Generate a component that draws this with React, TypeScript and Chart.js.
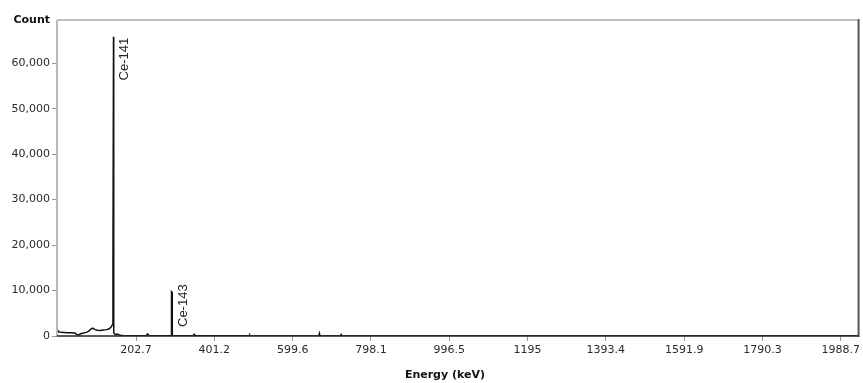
import React, { useEffect, useRef } from "react";
import { Chart, registerables } from "chart.js";

Chart.register(...registerables);

// Spectrum channels (energy in keV) and counts
const spectrumEnergy = [
  3, 5, 8, 12, 20, 30, 40, 48, 52, 58, 64, 70, 76, 82, 88, 93, 98, 104, 112, 120,
  128, 135, 140, 143.5, 144.2, 145.6, 146.2, 150, 156, 162, 172, 190, 228, 232, 236,
  260, 292.3, 292.6, 294.2, 294.6, 320, 348, 350, 352, 420, 490, 491, 492, 600, 666,
  667.5, 669, 721, 722.5, 724, 900, 2034,
];
const spectrumCounts = [
  400, 1200, 900, 800, 750, 700, 700, 650, 350, 300, 550, 650, 800, 1000, 1500, 1750,
  1450, 1250, 1200, 1300, 1400, 1600, 2000, 2600, 15000, 65800, 700, 300, 450, 150, 80,
  60, 60, 450, 60, 40, 40, 9750, 9600, 60, 40, 40, 350, 40, 30, 30, 180, 30, 20, 20, 550,
  20, 20, 300, 20, 15, 10,
];

// Peak annotations
const peakNames = ["Ce-141", "Ce-143"];
const peakEnergy = [145.4, 294.2];
const peakCounts = [65800, 9750];

// Axis ticks
const xTickValues = [202.7, 401.2, 599.6, 798.1, 996.5, 1195, 1393.4, 1591.9, 1790.3, 1988.7];
const yTickValues = [0, 10000, 20000, 30000, 40000, 50000, 60000];
const xMin = 2.4;
const xMax = 2034;
const yMax = 69500;

const xTitle = "Energy (keV)";
const yTitle = "Count";

const framePlugin = {
  id: "framePlugin",
  afterDraw(chart: any) {
    const { ctx, chartArea } = chart;
    const { left, right, top, bottom } = chartArea;
    ctx.save();
    // top border
    ctx.strokeStyle = "#adadad";
    ctx.lineWidth = 1.6;
    ctx.beginPath();
    ctx.moveTo(left, top);
    ctx.lineTo(right, top);
    ctx.stroke();
    // left axis
    ctx.strokeStyle = "#b8b8b8";
    ctx.lineWidth = 2;
    ctx.beginPath();
    ctx.moveTo(left, top);
    ctx.lineTo(left, bottom);
    ctx.stroke();
    // right border
    ctx.strokeStyle = "#555";
    ctx.lineWidth = 2;
    ctx.beginPath();
    ctx.moveTo(right, top - 1);
    ctx.lineTo(right, bottom + 1);
    ctx.stroke();
    // bottom axis
    ctx.strokeStyle = "#222";
    ctx.lineWidth = 1.5;
    ctx.beginPath();
    ctx.moveTo(left, bottom);
    ctx.lineTo(right, bottom);
    ctx.stroke();

    // peak labels
    const xs = chart.scales.x;
    const ys = chart.scales.y;
    ctx.fillStyle = "#222";
    ctx.font = "13px 'Liberation Sans', Arial, sans-serif";
    ctx.textAlign = "right";
    ctx.textBaseline = "top";
    for (let i = 0; i < peakNames.length; i++) {
      const px = xs.getPixelForValue(peakEnergy[i]);
      const py = ys.getPixelForValue(peakCounts[i]);
      const w = ctx.measureText(peakNames[i]).width;
      const endY = Math.min(py + 1, bottom - 9 - w);
      ctx.save();
      ctx.translate(px + 5, endY);
      ctx.rotate(-Math.PI / 2);
      ctx.fillText(peakNames[i], 0, 0);
      ctx.restore();
    }

    // axis titles
    ctx.fillStyle = "#111";
    ctx.font = "bold 11px 'DejaVu Sans', sans-serif";
    ctx.textAlign = "right";
    ctx.textBaseline = "middle";
    ctx.fillText(yTitle, left - 7, top);
    ctx.textAlign = "center";
    ctx.textBaseline = "alphabetic";
    ctx.fillText(xTitle, left + (right - left) * 0.484, 378);
    ctx.restore();
  },
};

export default function App() {
  const canvasRef = useRef<HTMLCanvasElement | null>(null);

  useEffect(() => {
    const canvas = canvasRef.current;
    if (!canvas) return;
    const points = spectrumEnergy.map((e, i) => ({ x: e, y: spectrumCounts[i] }));
    const chart = new Chart(canvas, {
      type: "line",
      data: {
        datasets: [
          {
            data: points,
            borderColor: "#111",
            borderWidth: 1.5,
            pointRadius: 0,
            tension: 0,
            fill: false,
          },
        ],
      },
      options: {
        animation: false,
        responsive: false,
        maintainAspectRatio: false,
        layout: { padding: { left: 0, right: 2, top: 20, bottom: 0 } },
        plugins: {
          legend: { display: false },
          tooltip: { enabled: false },
          title: { display: false },
        },
        scales: {
          x: {
            type: "linear",
            min: xMin,
            max: xMax,
            afterBuildTicks: (scale: any) => {
              scale.ticks = xTickValues.map((v) => ({ value: v }));
            },
            afterFit: (scale: any) => {
              scale.height = 47;
            },
            ticks: {
              autoSkip: false,
              maxRotation: 0,
              minRotation: 0,
              padding: 3,
              color: "#2a2a2a",
              font: { family: "'DejaVu Sans', sans-serif", size: 11 },
              callback: (v: any) => String(v),
            },
            grid: {
              drawOnChartArea: false,
              drawTicks: true,
              tickLength: 5,
              color: "#999",
            },
            border: { display: false },
          },
          y: {
            type: "linear",
            min: 0,
            max: yMax,
            afterBuildTicks: (scale: any) => {
              scale.ticks = yTickValues.map((v) => ({ value: v }));
            },
            afterFit: (scale: any) => {
              scale.width = 57;
            },
            ticks: {
              autoSkip: false,
              padding: 2,
              color: "#2a2a2a",
              font: { family: "'DejaVu Sans', sans-serif", size: 11 },
              callback: (v: any) => Number(v).toLocaleString("en-US"),
            },
            grid: {
              drawOnChartArea: false,
              drawTicks: true,
              tickLength: 5,
              color: "#999",
            },
            border: { display: false },
          },
        },
      },
      plugins: [framePlugin],
    });
    return () => chart.destroy();
  }, []);

  return (
    <div style={{ position: "fixed", left: 0, top: 0, width: 863, height: 383, background: "#fff" }}>
      <canvas ref={canvasRef} width={863} height={383} style={{ display: "block" }} />
    </div>
  );
}
